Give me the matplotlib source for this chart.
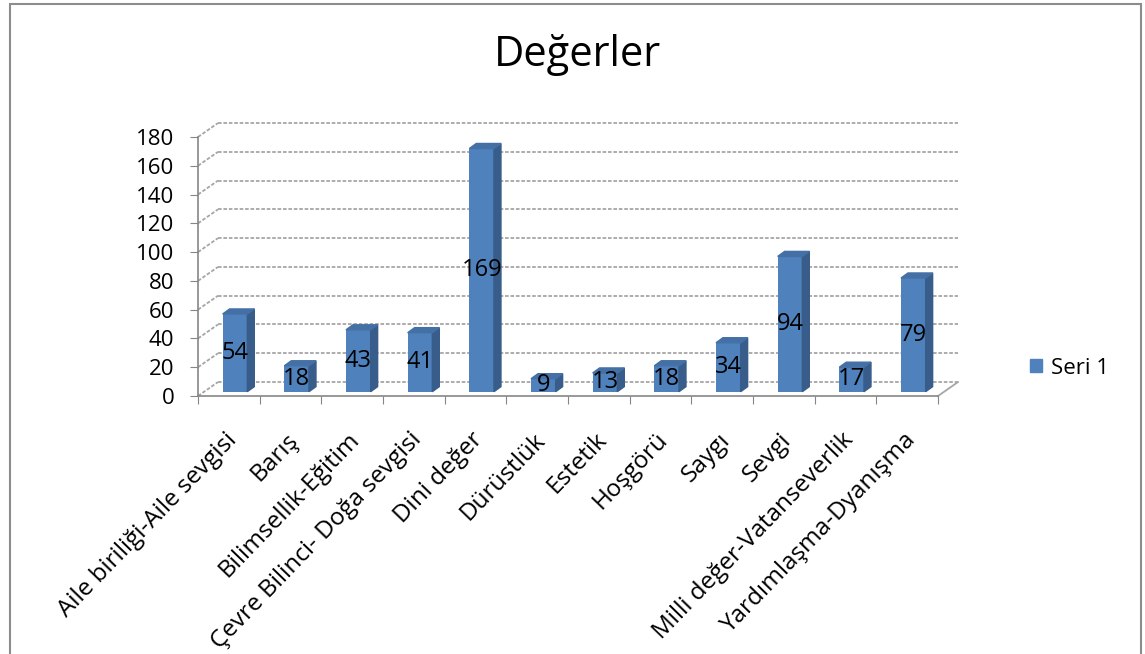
import matplotlib.pyplot as plt
from matplotlib.patches import Polygon, Rectangle, Patch

plt.rcParams['font.family'] = ['Open Sans', 'DejaVu Sans']

categories = ['Aile biriliği-Aile sevgisi', 'Barış', 'Bilimsellik-Eğitim',
              'Çevre Bilinci- Doğa sevgisi', 'Dini değer', 'Dürüstlük', 'Estetik',
              'Hoşgörü', 'Saygı', 'Sevgi', 'Milli değer-Vatanseverlik',
              'Yardımlaşma-Dyanışma']
values = [54, 18, 43, 41, 169, 9, 13, 18, 34, 94, 17, 79]
yticks = [0, 20, 40, 60, 80, 100, 120, 140, 160, 180]
series_name = 'Seri 1'
title = 'Değerler'

front = '#4F81BD'
side = '#385D8A'
top = '#4470A6'
grid_c = '#a6a6a6'
axis_c = '#868686'

W, H = 1145, 654
fig = plt.figure(figsize=(W / 100, H / 100), dpi=100)
ax = fig.add_axes([198 / W, 1 - 396 / H, 740 / W, 259 / H])
ax.set_xlim(-0.5, len(categories) - 0.5)
ax.set_ylim(0, 180)

# 3d look: back wall offset
dx, dyg = 0.324, 9.7
x0, x1 = -0.5, len(categories) - 0.5
for v in yticks:
    ax.plot([x0 + dx, x1 + dx], [v + dyg, v + dyg], color=grid_c, lw=1.3,
            ls=(0, (2, 1)), clip_on=False, zorder=1)
    ax.plot([x0, x0 + dx], [v, v + dyg], color=grid_c, lw=1.3,
            ls=(0, (2, 1)), clip_on=False, zorder=1)
ax.plot([x1, x1 + dx], [0, dyg], color=grid_c, lw=1.3, clip_on=False, zorder=1)

# bars
base = 3
ddx, ddy = 0.113, 3.5
xs = [i + 0.1 for i in range(len(categories))]
ax.bar(xs, values, width=0.4, bottom=base, color=front, zorder=3)
for x, v in zip(xs, values):
    l, r, t = x - 0.2, x + 0.2, base + v
    ax.add_patch(Polygon([(r, base), (r + ddx, base + ddy), (r + ddx, t + ddy), (r, t)],
                         closed=True, color=side, zorder=3, clip_on=False))
    ax.add_patch(Polygon([(l, t), (r, t), (r + ddx, t + ddy), (l + ddx, t + ddy)],
                         closed=True, color=top, zorder=3, clip_on=False))
    ax.text(x, base + v / 2, str(v), ha='center', va='center', fontsize=17,
            color='black', zorder=4)

for s in ['top', 'right']:
    ax.spines[s].set_visible(False)
for s in ['left', 'bottom']:
    ax.spines[s].set_color(axis_c)
    ax.spines[s].set_linewidth(1.2)

ax.set_yticks(yticks)
ax.set_yticklabels([str(v) for v in yticks], fontsize=16)
ax.tick_params(axis='y', length=6, color=axis_c, pad=11)
ax.set_xticks([i - 0.5 for i in range(len(categories) + 1)])
ax.set_xticklabels([])
ax.tick_params(axis='x', length=6, color=axis_c)

for i, c in enumerate(categories):
    ax.annotate(c, xy=(i, 0), xytext=(3, -29), textcoords='offset points',
                ha='right', va='center', rotation=46, rotation_mode='anchor',
                fontsize=17.5, annotation_clip=False)

fig.text(577 / W, 1 - 55 / H, title, ha='center', va='center', fontsize=30)

fig.legend(handles=[Patch(color=front)], labels=[series_name], loc='center left',
           bbox_to_anchor=(1030 / W, 1 - 368 / H), frameon=False, fontsize=16,
           handlelength=0.55, handleheight=0.55, handletextpad=0.4,
           borderaxespad=0, borderpad=0)

fig.patches.append(Rectangle((10 / W, -0.05), (1141 - 10) / W, 1.05 - 4 / H,
                             transform=fig.transFigure, fill=False,
                             ec='#8c8c8c', lw=1.5))

plt.savefig('out.png', dpi=100)
